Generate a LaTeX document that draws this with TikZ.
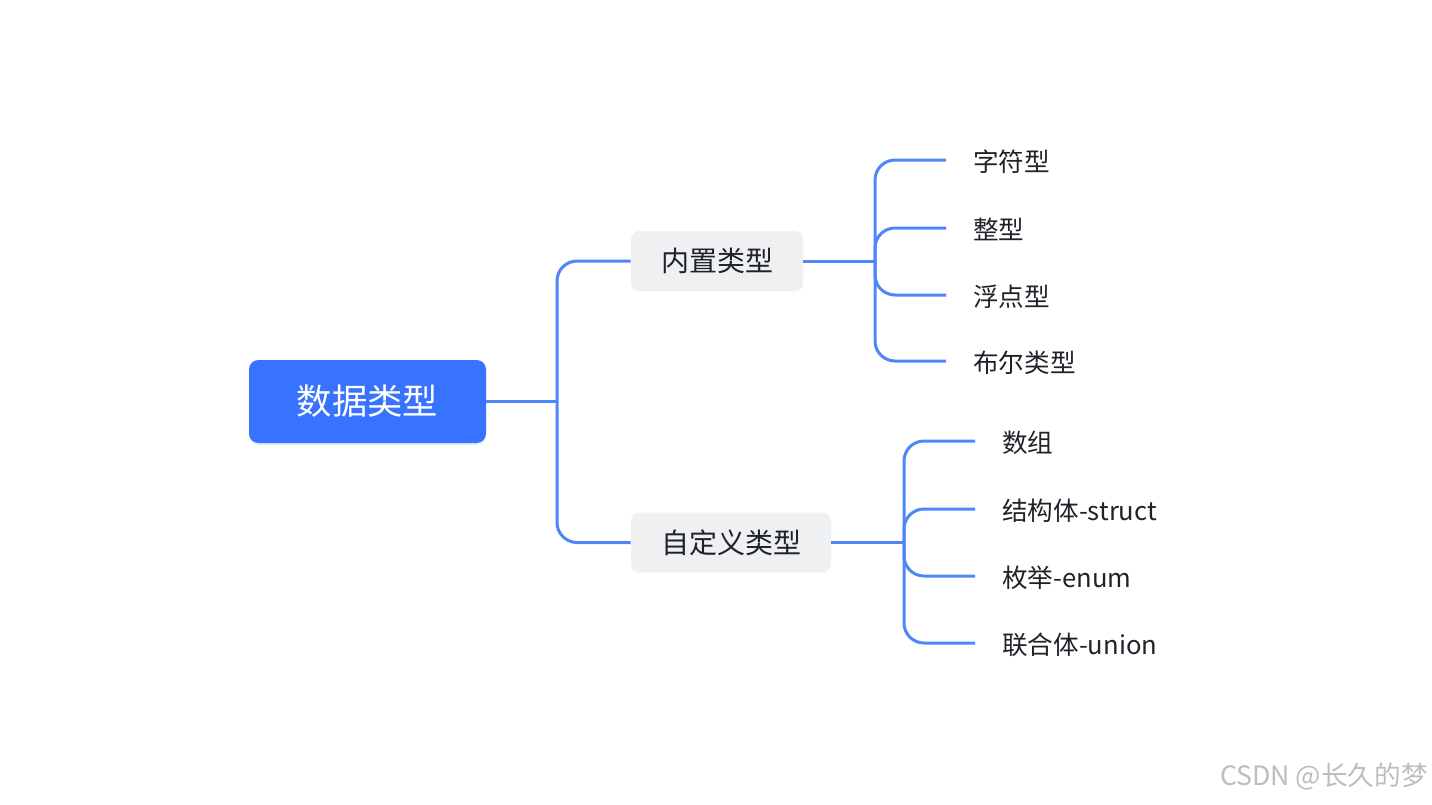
\documentclass[tikz,border=0pt]{standalone}
\usepackage{fontspec}
\setmainfont{Noto Sans CJK SC}
\usetikzlibrary{shadows}
\definecolor{rootblue}{HTML}{3873FF}
\definecolor{linkblue}{HTML}{4F86F7}
\definecolor{boxgray}{HTML}{EFF0F2}
\definecolor{txt}{HTML}{1F2329}
\definecolor{wm}{HTML}{BDBDBD}
\tikzset{
  rootbox/.style={fill=rootblue, text=white, rounded corners=7pt, minimum width=177.75pt, minimum height=62.25pt, inner sep=0pt, font=\fontsize{26.5}{30}\selectfont,
    drop shadow={shadow xshift=0pt, shadow yshift=-1.5pt, opacity=0.12, fill=rootblue}},
  midbox/.style={fill=boxgray, text=txt, rounded corners=6pt, minimum height=45pt, inner sep=0pt, font=\fontsize{21}{25}\selectfont},
  leaf/.style={anchor=west, text=txt, inner xsep=20.25pt, inner ysep=0pt, text height=19.8pt, text depth=2.4pt, font=\fontsize{19.2}{23}\selectfont},
  link/.style={draw=linkblue, line width=2.25pt, rounded corners=15pt},
}
\begin{document}
\begin{tikzpicture}[x=0.75pt, y=-0.75pt]
\useasboundingbox (0,0) rectangle (1432,804);
\node[rootbox] (root) at (367.5,401.5) {数据类型};
\node[midbox, minimum width=129pt] (n1) at (717,261) {内置类型};
\node[midbox, minimum width=150pt] (n2) at (731,542.5) {自定义类型};
\coordinate (j0) at (557,401.5);
\coordinate (j1) at (875,261);
\coordinate (j2) at (904,542.5);
\node[leaf] (a1) at (946,160) {字符型};
\node[leaf] (a2) at (946,228) {整型};
\node[leaf] (a3) at (946,295) {浮点型};
\node[leaf] (a4) at (946,361) {布尔类型};
\node[leaf] (b1) at (975,441) {数组};
\node[leaf] (b2) at (975,509) {结构体-struct};
\node[leaf] (b3) at (975,576) {枚举-enum};
\node[leaf] (b4) at (975,643) {联合体-union};
\draw[link] (root.east) -- (j0);
\draw[link] (n1.west) -| (j0) |- (n2.west);
\draw[link] (n1.east) -- (j1);
\draw[link] (n2.east) -- (j2);
\foreach \l in {a1,a2,a3,a4} \draw[link] (j1) |- (\l.west);
\foreach \l in {b1,b2,b3,b4} \draw[link] (j2) |- (\l.west);
\node[anchor=east, text=wm, inner sep=0pt, font=\fontsize{20}{22}\selectfont] (wmk) at (1428,777) {CSDN @长久的梦};
\end{tikzpicture}
\end{document}
